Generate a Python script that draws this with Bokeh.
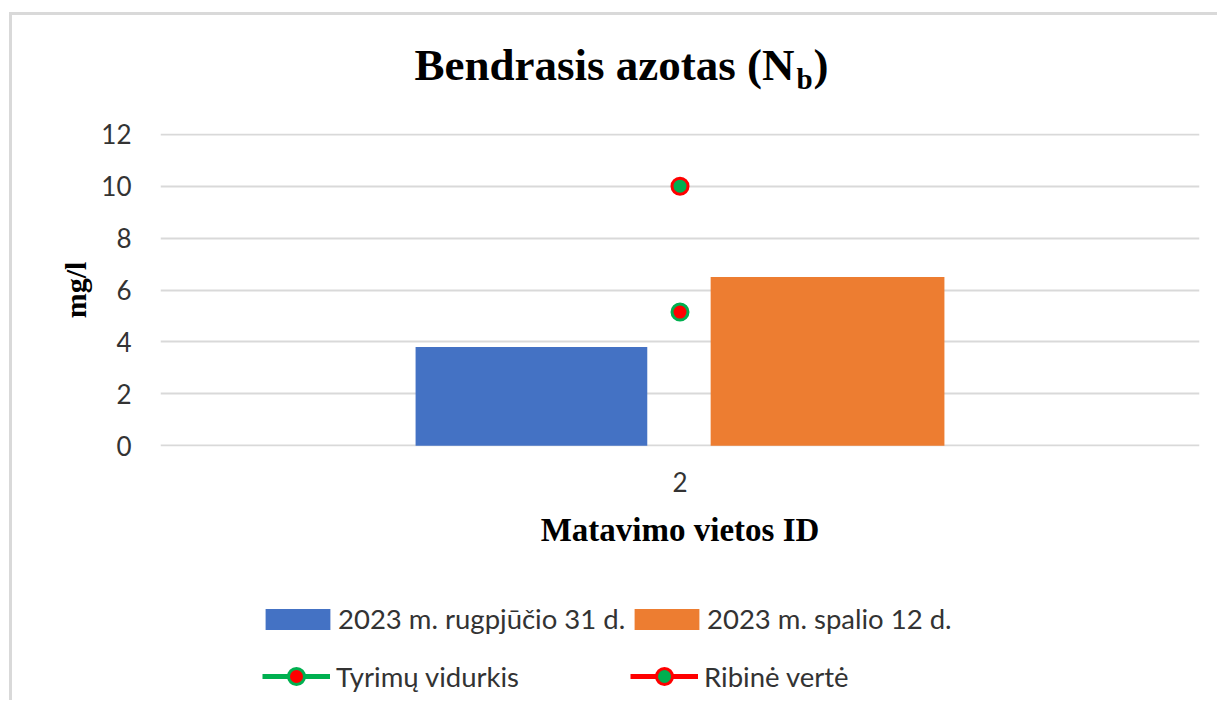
from bokeh.plotting import figure
from bokeh.models import (FactorRange, Range1d, Legend, LegendItem, Label,
                          FixedTicker, ColumnDataSource)
from bokeh.layouts import column
from bokeh.transform import dodge
from bokeh.embed import file_html
from bokeh.resources import INLINE

# ---- data ----
categories = ["2"]
series_names = ["2023 m. rugpjūčio 31 d.", "2023 m. spalio 12 d."]
aug_values = [3.8]
oct_values = [6.5]
avg_values = [5.15]
limit_values = [10]
line_names = ["Tyrimų vidurkis", "Ribinė vertė"]
y_ticks = [0, 2, 4, 6, 8, 10, 12]
title_main = "Bendrasis azotas (N"
title_sub = "b"
title_end = ")"
x_label = "Matavimo vietos ID"
y_label = "mg/l"

src = ColumnDataSource(dict(cat=categories, aug=aug_values, oct=oct_values,
                            avg=avg_values, lim=limit_values))

W = 1205

# ---------------- title strip ----------------
tf = figure(width=W, height=99, x_range=Range1d(0, 1), y_range=Range1d(0, 1),
            output_backend="svg", toolbar_location=None,
            x_axis_location=None, y_axis_location=None,
            min_border_left=0, min_border_right=0, min_border_top=0, min_border_bottom=0)
tf.outline_line_color = None
tf.grid.visible = False
tkw = dict(x_units="screen", y_units="screen", text_baseline="alphabetic",
           text_font="Liberation Serif", text_font_style="bold", text_color="black")
tf.add_layout(Label(x=634, y=50, text=title_main, text_align="right",
                    text_font_size="45px", **tkw))
tf.add_layout(Label(x=636, y=36, text=title_sub, text_align="left",
                    text_font_size="29px", **tkw))
tf.add_layout(Label(x=653, y=50, text=title_end, text_align="left",
                    text_font_size="45px", **tkw))

# ---------------- main chart ----------------
p = figure(width=W, height=452,
           x_range=FactorRange(factors=categories),
           y_range=Range1d(-0.03, 12.03),
           output_backend="svg", toolbar_location=None,
           min_border_left=148, min_border_right=18,
           min_border_top=19, min_border_bottom=120)
p.outline_line_color = None

p.yaxis.ticker = FixedTicker(ticks=y_ticks)
p.yaxis.major_tick_line_color = None
p.yaxis.minor_tick_line_color = None
p.yaxis.axis_line_color = None
p.yaxis.major_label_text_font = "Lato"
p.yaxis.major_label_text_font_size = "26px"
p.yaxis.major_label_text_color = "#333333"
p.yaxis.major_label_standoff = 23
p.yaxis.axis_label = y_label
p.yaxis.axis_label_text_font = "Liberation Serif"
p.yaxis.axis_label_text_font_style = "bold"
p.yaxis.axis_label_text_font_size = "30px"
p.yaxis.axis_label_text_color = "black"
p.yaxis.axis_label_standoff = 6

p.xaxis.major_tick_line_color = None
p.xaxis.minor_tick_line_color = None
p.xaxis.axis_line_color = None
p.xaxis.major_label_text_font = "Lato"
p.xaxis.major_label_text_font_size = "26px"
p.xaxis.major_label_text_color = "#333333"
p.xaxis.major_label_standoff = 19
p.xaxis.axis_label = x_label
p.xaxis.axis_label_text_font = "Liberation Serif"
p.xaxis.axis_label_text_font_style = "bold"
p.xaxis.axis_label_text_font_size = "33px"
p.xaxis.axis_label_text_color = "black"
p.xaxis.axis_label_standoff = 17

p.xgrid.visible = False
p.ygrid.grid_line_color = "#d9d9d9"
p.ygrid.grid_line_width = 2


def draw_series(fig):
    b1 = fig.vbar(x=dodge("cat", -0.143, range=fig.x_range), top="aug", width=0.223,
                  source=src, fill_color="#4472C4", line_color=None)
    b2 = fig.vbar(x=dodge("cat", 0.142, range=fig.x_range), top="oct", width=0.225,
                  source=src, fill_color="#ED7D31", line_color=None)
    ln1 = fig.line(x="cat", y="avg", source=src, line_color="#00B050", line_width=5)
    sc1 = fig.scatter(x="cat", y="avg", source=src, size=16, fill_color="#FF0000",
                      line_color="#00B050", line_width=3)
    ln2 = fig.line(x="cat", y="lim", source=src, line_color="#FF0000", line_width=5)
    sc2 = fig.scatter(x="cat", y="lim", source=src, size=16, fill_color="#00B050",
                      line_color="#FF0000", line_width=3)
    return b1, b2, ln1, sc1, ln2, sc2


draw_series(p)

# ---------------- legend strip ----------------
# same series; the value range is set above the data so only the legend shows
lf = figure(width=W, height=134, x_range=FactorRange(factors=categories),
            y_range=Range1d(100, 200),
            output_backend="svg", toolbar_location=None,
            x_axis_location=None, y_axis_location=None,
            min_border_left=0, min_border_right=0, min_border_top=0, min_border_bottom=0)
lf.outline_line_color = None
lf.grid.visible = False
r1, r2, l1, s1, l2, s2 = draw_series(lf)

common = dict(orientation="horizontal", padding=0, margin=0,
              border_line_color=None, background_fill_alpha=0,
              label_text_font="Lato", label_text_font_size="27.5px",
              label_text_color="#333333")
legA = Legend(items=[LegendItem(label=series_names[0], renderers=[r1]),
                     LegendItem(label=series_names[1], renderers=[r2])],
              location=(97, 65), glyph_width=81, glyph_height=26,
              label_standoff=0, label_width=288, spacing=0, **common)
legB = Legend(items=[LegendItem(label=line_names[0], renderers=[l1, s1]),
                     LegendItem(label=line_names[1], renderers=[l2, s2])],
              location=(102, 4), glyph_width=68, glyph_height=40,
              label_standoff=6, label_width=286, spacing=8, **common)
lf.add_layout(legA)
lf.add_layout(legB)

layout = column(tf, p, lf, spacing=0,
                styles={"position": "relative", "top": "12px", "left": "9px",
                        "border-left": "3px solid #d9d9d9",
                        "border-top": "3px solid #d9d9d9"})

open("out.html", "w").write(file_html(layout, INLINE))
